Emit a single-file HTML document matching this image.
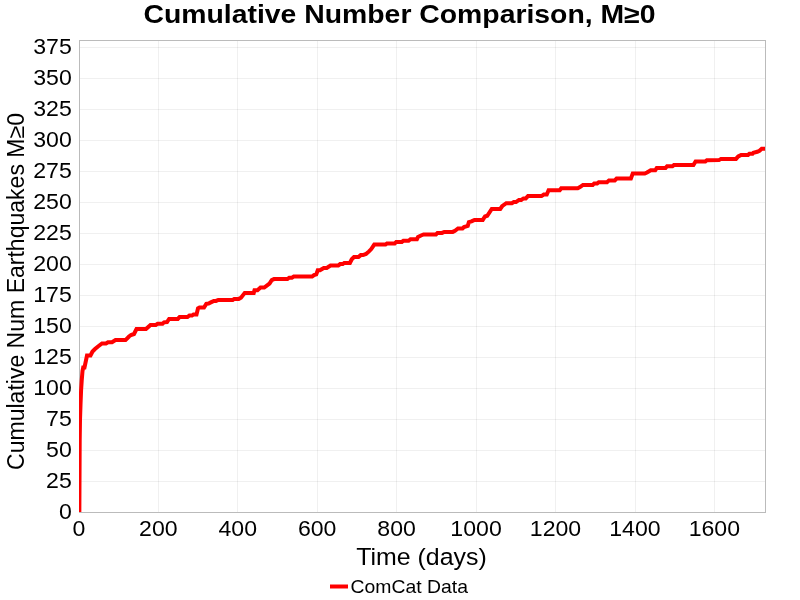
<!DOCTYPE html>
<html><head><meta charset="utf-8">
<style>
html,body{margin:0;padding:0;background:#fff;width:800px;height:600px;overflow:hidden;}
svg{display:block;will-change:transform;}
text{font-family:"Liberation Sans", sans-serif;fill:#000;}
</style></head><body>
<svg width="800" height="600" viewBox="0 0 800 600">
<rect x="0" y="0" width="800" height="600" fill="#fff"/>
<text x="399.5" y="22.7" text-anchor="middle" font-weight="bold" font-size="25.4" textLength="512" lengthAdjust="spacingAndGlyphs">Cumulative Number Comparison, M≥0</text>
<g stroke="#000" stroke-opacity="0.06" stroke-width="1" shape-rendering="crispEdges"><line x1="158.50" y1="40" x2="158.50" y2="513"/><line x1="237.50" y1="40" x2="237.50" y2="513"/><line x1="317.50" y1="40" x2="317.50" y2="513"/><line x1="396.50" y1="40" x2="396.50" y2="513"/><line x1="476.50" y1="40" x2="476.50" y2="513"/><line x1="555.50" y1="40" x2="555.50" y2="513"/><line x1="635.50" y1="40" x2="635.50" y2="513"/><line x1="714.50" y1="40" x2="714.50" y2="513"/><line x1="79" y1="481.50" x2="766" y2="481.50"/><line x1="79" y1="450.50" x2="766" y2="450.50"/><line x1="79" y1="419.50" x2="766" y2="419.50"/><line x1="79" y1="388.50" x2="766" y2="388.50"/><line x1="79" y1="357.50" x2="766" y2="357.50"/><line x1="79" y1="326.50" x2="766" y2="326.50"/><line x1="79" y1="295.50" x2="766" y2="295.50"/><line x1="79" y1="264.50" x2="766" y2="264.50"/><line x1="79" y1="233.50" x2="766" y2="233.50"/><line x1="79" y1="202.50" x2="766" y2="202.50"/><line x1="79" y1="171.50" x2="766" y2="171.50"/><line x1="79" y1="140.50" x2="766" y2="140.50"/><line x1="79" y1="109.50" x2="766" y2="109.50"/><line x1="79" y1="78.50" x2="766" y2="78.50"/><line x1="79" y1="47.50" x2="766" y2="47.50"/></g>
<rect x="79.5" y="40.5" width="686" height="472" fill="none" stroke="#bbbbbb" stroke-width="1"/>
<defs><clipPath id="c"><rect x="79" y="40" width="686" height="472"/></clipPath></defs>
<path clip-path="url(#c)" d="M79.35 513 L79.7 440 L80 420 L80.5 405 L81.1 390 L81.75 380 L82.5 371 L83.2 367.5 L84.5 367.5 L87 355.5 L90.5 355.5 L92.5 351.5 L95 349 L98 346.5 L102 343.5 L106 343.5 L108 342.25 L112 342.25 L115.5 340.1 L125.5 340.1 L129 336.5 L131 335 L134 334 L136.5 329 L146 329 L150.5 324.9 L155.8 324.9 L157.6 323.8 L162.5 323.8 L164 322.3 L167 322 L169.1 318.9 L177.8 318.9 L179.6 317 L187.5 317 L189.4 315.5 L192 315.5 L193.5 314.4 L196.5 314.4 L198 308.4 L199.5 307.6 L204 307.5 L206.3 303.9 L208.5 303.5 L210.8 302.4 L213.8 300.9 L216 300.9 L218.3 299.9 L232.75 299.9 L234.25 298.9 L238.75 298.9 L241 297.75 L244.75 292.9 L253.75 292.9 L254.5 290.25 L257.5 290.25 L260.5 287.6 L264.25 287.6 L269.5 283.5 L271.75 280.1 L274 279.1 L287.4 279.1 L289.25 277.75 L291.9 277.75 L293.75 276.6 L312.1 276.6 L314 275.1 L316.25 274.4 L317.75 270.25 L320 270.25 L323.75 268 L326.75 268 L330.5 265.6 L338.25 265.6 L340.1 264.1 L342.75 264.1 L344.25 263 L349.9 263 L351.75 259.25 L354 257 L358.5 257 L360.75 255.1 L363 255.1 L366 254 L369 251.4 L371.25 249.1 L374.25 244.6 L385.5 244.6 L387 243.4 L394.75 243.4 L396.25 241.9 L401.9 241.9 L403.4 240.75 L408.6 240.75 L410.5 239.25 L416.9 239.25 L418 237 L421 235.5 L423.6 234.4 L436 234.4 L437.5 232.9 L442 232.9 L444.25 231.9 L452.75 231.9 L455 230.75 L458 228.5 L462.5 228.5 L464 227 L467.75 225.9 L468.9 222.1 L471.5 221.4 L474.5 219.9 L482.75 219.9 L485 216.5 L487.25 215.75 L491.75 209 L500.25 208.9 L502.1 206.25 L506.25 203.25 L511.9 203.25 L513.75 202.1 L516 202.1 L519 199.9 L521.25 199.9 L523.5 198.4 L525.75 198.4 L528 196.1 L541.5 196.1 L543.75 194.6 L546.75 194.6 L548.6 190.3 L559.75 190.3 L561.25 188.25 L577.75 188.25 L580 187.1 L583 184.9 L592.75 184.9 L594.25 183.4 L597.25 183.4 L598.75 182.25 L607 182.25 L609 180.4 L614.75 180.4 L616.6 178.5 L630.9 178.5 L632.75 173.6 L644.75 173.6 L647 172.5 L650.75 170.25 L655.25 170.25 L656.75 167.9 L665.6 167.9 L667.1 166.25 L672.4 166.25 L673.9 165.1 L693.4 165.1 L695.6 161.4 L705.4 161.4 L706.9 160.25 L719 160.1 L721 158.9 L736 158.9 L738.25 156.4 L741.1 154.9 L748.1 154.9 L749.4 153.8 L752.5 153.8 L753.4 152.7 L757.3 151.8 L759.5 150.7 L761.7 148.8 L768 148.8" fill="none" stroke="#ff0000" stroke-width="4" stroke-linejoin="miter" stroke-miterlimit="10" stroke-linecap="square"/>
<g font-size="21.2"><text transform="translate(71.8,518.80) scale(1.09,1)" text-anchor="end">0</text><text transform="translate(71.8,487.80) scale(1.09,1)" text-anchor="end">25</text><text transform="translate(71.8,456.80) scale(1.09,1)" text-anchor="end">50</text><text transform="translate(71.8,425.80) scale(1.09,1)" text-anchor="end">75</text><text transform="translate(71.8,394.80) scale(1.09,1)" text-anchor="end">100</text><text transform="translate(71.8,363.80) scale(1.09,1)" text-anchor="end">125</text><text transform="translate(71.8,332.80) scale(1.09,1)" text-anchor="end">150</text><text transform="translate(71.8,301.80) scale(1.09,1)" text-anchor="end">175</text><text transform="translate(71.8,270.80) scale(1.09,1)" text-anchor="end">200</text><text transform="translate(71.8,239.80) scale(1.09,1)" text-anchor="end">225</text><text transform="translate(71.8,208.80) scale(1.09,1)" text-anchor="end">250</text><text transform="translate(71.8,177.80) scale(1.09,1)" text-anchor="end">275</text><text transform="translate(71.8,146.80) scale(1.09,1)" text-anchor="end">300</text><text transform="translate(71.8,115.80) scale(1.09,1)" text-anchor="end">325</text><text transform="translate(71.8,84.80) scale(1.09,1)" text-anchor="end">350</text><text transform="translate(71.8,53.80) scale(1.09,1)" text-anchor="end">375</text></g>
<g font-size="21.2"><text transform="translate(78.90,535.6) scale(1.09,1)" text-anchor="middle">0</text><text transform="translate(158.33,535.6) scale(1.09,1)" text-anchor="middle">200</text><text transform="translate(237.76,535.6) scale(1.09,1)" text-anchor="middle">400</text><text transform="translate(317.19,535.6) scale(1.09,1)" text-anchor="middle">600</text><text transform="translate(396.61,535.6) scale(1.09,1)" text-anchor="middle">800</text><text transform="translate(476.04,535.6) scale(1.09,1)" text-anchor="middle">1000</text><text transform="translate(555.47,535.6) scale(1.09,1)" text-anchor="middle">1200</text><text transform="translate(634.90,535.6) scale(1.09,1)" text-anchor="middle">1400</text><text transform="translate(714.33,535.6) scale(1.09,1)" text-anchor="middle">1600</text></g>
<text transform="translate(421.5,564.8) scale(1.07,1)" text-anchor="middle" font-size="23.3">Time (days)</text>
<text transform="translate(24,291.5) rotate(-90) scale(0.989,1)" text-anchor="middle" font-size="23.3">Cumulative Num Earthquakes M≥0</text>
<line x1="330" y1="586.5" x2="348" y2="586.5" stroke="#ff0000" stroke-width="4"/>
<text transform="translate(350.6,593) scale(1.02,1)" font-size="19">ComCat Data</text>
</svg>
</body></html>
